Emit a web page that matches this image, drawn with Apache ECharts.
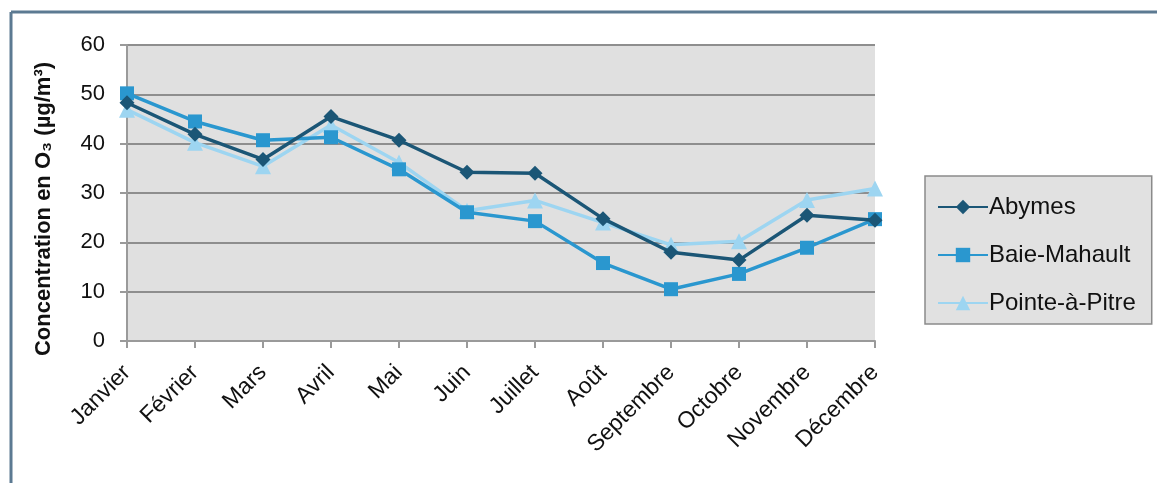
<!DOCTYPE html>
<html>
<head>
<meta charset="utf-8">
<script src="https://cdn.jsdelivr.net/npm/echarts@6/dist/echarts.min.js"></script>
<style>html,body{margin:0;padding:0;background:#fff}#c{width:1157px;height:483px}</style>
</head>
<body>
<div id="c"></div>
<script>
const months = ['Janvier','Février','Mars','Avril','Mai','Juin','Juillet','Août','Septembre','Octobre','Novembre','Décembre'];
const abymes = [48.3, 41.9, 36.8, 45.5, 40.7, 34.2, 34.0, 24.8, 18.0, 16.4, 25.5, 24.5];
const baieMahault = [50.2, 44.5, 40.7, 41.3, 34.8, 26.1, 24.3, 15.8, 10.5, 13.6, 18.9, 24.7];
const pointeAPitre = [46.9, 40.2, 35.4, 43.8, 36.2, 26.4, 28.5, 24.0, 19.5, 20.2, 28.6, 30.9];
const yTicks = {min: 0, max: 60, interval: 10};

const font = '"Liberation Sans", Arial, sans-serif';
const cDark = '#1b5676', cMid = '#2a97cf', cLight = '#9dd5f1';

const chart = echarts.init(document.getElementById('c'));
chart.setOption({
  animation: false,
  backgroundColor: '#ffffff',
  textStyle: {fontFamily: font},
  graphic: [
    {type: 'line', shape: {x1: 11, y1: 12, x2: 1157, y2: 12}, style: {stroke: '#5c7a92', lineWidth: 3}},
    {type: 'line', shape: {x1: 11, y1: 12, x2: 11, y2: 483}, style: {stroke: '#5c7a92', lineWidth: 3}}
  ],
  grid: {left: 127, right: 282, top: 45, bottom: 142, show: true, backgroundColor: '#e0e0e0', borderWidth: 0},
  legend: {
    orient: 'vertical', left: 925, top: 176,
    padding: [19, 16, 9, 12], itemGap: 24,
    backgroundColor: '#e1e1e1', borderColor: '#8a8a8a', borderWidth: 1.5,
    itemWidth: 50, itemHeight: 18,
    textStyle: {fontFamily: font, fontSize: 24, lineHeight: 24, color: '#111', padding: [0,0,0,-4]},
    data: ['Abymes','Baie-Mahault','Pointe-à-Pitre']
  },
  xAxis: {
    type: 'category', data: months, boundaryGap: false,
    axisLine: {lineStyle: {color: '#9a9a9a', width: 2}},
    axisTick: {show: true, length: 7, alignWithLabel: true, lineStyle: {color: '#9a9a9a', width: 2}},
    axisLabel: {rotate: 45, fontSize: 23, color: '#111', margin: 28, fontFamily: font, interval: 0},
    splitLine: {show: false}
  },
  yAxis: {
    type: 'value', min: yTicks.min, max: yTicks.max, interval: yTicks.interval,
    name: 'Concentration en O₃ (µg/m³)', nameLocation: 'middle', nameGap: 72,
    nameTextStyle: {fontSize: 22, fontWeight: 'bold', color: '#111', fontFamily: font, padding: [0, 32, 0, 0]},
    axisLine: {show: true, lineStyle: {color: '#9a9a9a', width: 2}},
    axisTick: {show: true, length: 7, lineStyle: {color: '#9a9a9a', width: 2}},
    axisLabel: {fontSize: 22, color: '#111', margin: 22, fontFamily: font},
    splitLine: {lineStyle: {color: '#8e8e8e', width: 2}}
  },
  series: [
    {name: 'Abymes', type: 'line', data: abymes, symbol: 'diamond', symbolSize: 15,
     lineStyle: {color: cDark, width: 3.5}, itemStyle: {color: cDark}, z: 4},
    {name: 'Baie-Mahault', type: 'line', data: baieMahault, symbol: 'rect', symbolSize: 14,
     lineStyle: {color: cMid, width: 3.5}, itemStyle: {color: cMid}, z: 3},
    {name: 'Pointe-à-Pitre', type: 'line', data: pointeAPitre, symbol: 'triangle', symbolSize: 16,
     lineStyle: {color: cLight, width: 3.5}, itemStyle: {color: cLight}, z: 2}
  ]
});
</script>
</body>
</html>
